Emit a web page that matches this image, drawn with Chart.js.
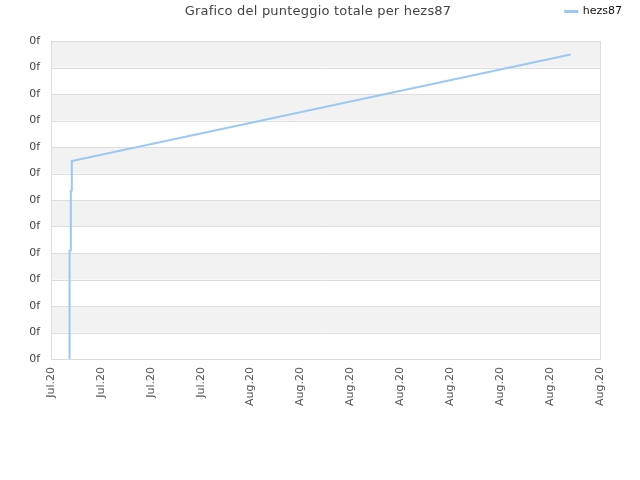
<!DOCTYPE html>
<html>
<head>
<meta charset="utf-8">
<script src="https://cdn.jsdelivr.net/npm/chart.js@4/dist/chart.umd.min.js"></script>
<style>
  html, body { margin: 0; padding: 0; background: #fff; }
  #wrap { position: relative; width: 640px; height: 480px; }
  #title { position: absolute; left: 0; top: 3px; width: 636px; text-align: center;
           font-family: "DejaVu Sans", sans-serif; font-size: 13px; letter-spacing: 0.2px; color: #444; }
</style>
</head>
<body>
<div id="wrap">
  <canvas id="c" width="640" height="480"></canvas>
  <div id="title">Grafico del punteggio totale per hezs87</div>
</div>
<script>
const seriesName = "hezs87";
const xTickLabels = ["Jul.20","Jul.20","Jul.20","Jul.20","Aug.20","Aug.20","Aug.20","Aug.20","Aug.20","Aug.20","Aug.20","Aug.20"];
const yTickLabel = "0f";
const xValues = [0.37, 0.372, 0.395, 0.397, 0.415, 0.417, 10.41];
const yValues = [0, 4.08, 4.1, 6.34, 6.36, 7.47, 11.49];

const points = xValues.map((x, i) => ({ x: x, y: yValues[i] }));

const bands = {
  id: 'bands',
  beforeDatasetsDraw(chart) {
    const { ctx, chartArea: a, scales: { y } } = chart;
    ctx.save();
    ctx.fillStyle = '#f2f2f2';
    for (let v = 0; v < 12; v++) {
      if (v % 2 === 1) {
        const top = y.getPixelForValue(v + 1), bot = y.getPixelForValue(v);
        ctx.fillRect(a.left, top, a.right - a.left, bot - top);
      }
    }
    ctx.strokeStyle = '#dddddd';
    ctx.lineWidth = 1;
    for (let v = 0; v <= 12; v++) {
      const p = Math.round(y.getPixelForValue(v)) + 0.5;
      ctx.beginPath(); ctx.moveTo(a.left, p); ctx.lineTo(a.right, p); ctx.stroke();
    }
    ctx.strokeRect(Math.round(a.left) + 0.5, Math.round(a.top) + 0.5, Math.round(a.right - a.left), Math.round(a.bottom - a.top));
    ctx.restore();
  }
};

const legendTweak = {
  id: 'legendTweak',
  afterInit(chart) {
    const lg = chart.legend;
    if (lg && !lg._wrapped) {
      const orig = lg.fit.bind(lg);
      lg.fit = function () { orig(); this.height = 41; };
      lg._wrapped = true;
    }
  },
  afterLayout(chart) {
    const lg = chart.legend;
    if (lg) { lg.left += 28; lg.right += 28; }
  }
};

new Chart(document.getElementById('c'), {
  type: 'line',
  data: {
    datasets: [{
      label: seriesName,
      data: points,
      borderColor: '#99c8f4',
      backgroundColor: '#99c8f4',
      borderWidth: 2,
      pointRadius: 0,
      fill: false,
      tension: 0
    }]
  },
  options: {
    responsive: false,
    animation: false,
    layout: { padding: { left: 0, right: 40, top: 0, bottom: 0 } },
    plugins: {
      title: { display: false },
      tooltip: { enabled: false },
      legend: {
        position: 'top',
        align: 'end',
        labels: {
          boxWidth: 12, boxHeight: 1, padding: 6,
          color: '#111',
          font: { family: 'DejaVu Sans', size: 11 }
        }
      }
    },
    scales: {
      x: {
        type: 'linear',
        min: 0, max: 11,
        afterFit(s) { s.height = 121; },
        afterBuildTicks(s) { s.ticks = xTickLabels.map((_, i) => ({ value: i })); },
        grid: { display: false, drawTicks: false },
        border: { display: true, color: '#dddddd' },
        ticks: {
          autoSkip: false,
          maxRotation: 90, minRotation: 90,
          padding: 8,
          color: '#555',
          font: { family: 'DejaVu Sans', size: 11 },
          callback: (v) => xTickLabels[v]
        }
      },
      y: {
        min: 0, max: 12,
        afterFit(s) { s.width = 51; },
        grid: { display: false, drawTicks: false },
        border: { display: true, color: '#dddddd' },
        ticks: {
          stepSize: 1,
          padding: 11,
          color: '#444',
          font: { family: 'DejaVu Sans', size: 11 },
          callback: () => yTickLabel
        }
      }
    }
  },
  plugins: [bands, legendTweak]
});
</script>
</body>
</html>
